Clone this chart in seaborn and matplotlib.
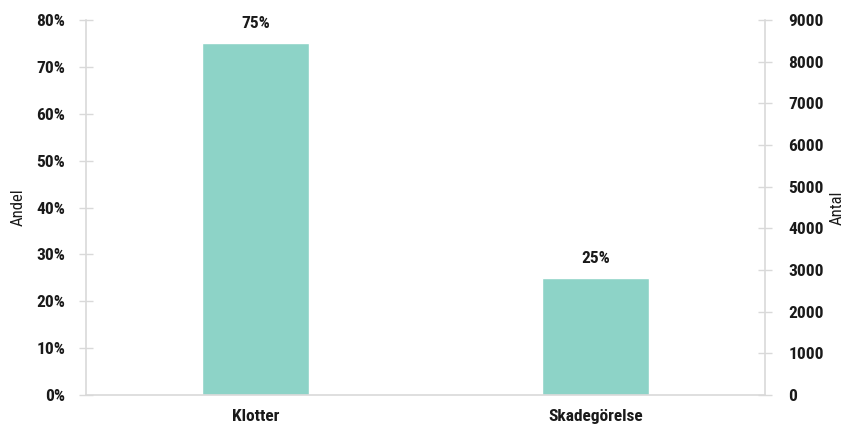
import matplotlib
matplotlib.use("Agg")
import matplotlib.pyplot as plt
from matplotlib import font_manager
import seaborn as sns
import pandas as pd

categories = ["Klotter", "Skadegörelse"]
shares = [75, 25]
left_ticks = [0, 10, 20, 30, 40, 50, 60, 70, 80]
right_ticks = [0, 1000, 2000, 3000, 4000, 5000, 6000, 7000, 8000, 9000]

sns.set_theme(style="white")

# pick a narrow family that actually ships a bold face
bold_families = {f.name for f in font_manager.fontManager.ttflist
                 if isinstance(f.weight, int) and f.weight >= 600
                 or f.weight in ("bold", "semibold", "demibold")}
family = next((f for f in ["Roboto Condensed", "Barlow Semi Condensed", "Archivo Narrow",
                           "Liberation Sans Narrow", "Barlow Condensed"]
               if f in bold_families), "DejaVu Sans")
plt.rcParams["font.family"] = [family, "DejaVu Sans"]

bar_color = "#8DD3C7"
axis_color = "#D9D9D9"
text_color = "#1a1a1a"

df = pd.DataFrame({"kategori": categories, "andel": shares})

fig = plt.figure(figsize=(8.46, 4.24), dpi=100)
ax = fig.add_axes([86 / 846, 1 - 395 / 424, (765 - 86) / 846, (395 - 20) / 424])

sns.barplot(data=df, x="kategori", y="andel", color=bar_color, width=0.315,
            saturation=1, ax=ax)
ax.set_xlim(-0.5, 1.5)
ax.set_ylim(0, 80)
ax.set_yticks(left_ticks)
ax.set_yticklabels([f"{t}%" for t in left_ticks])
ax.set_xlabel("")
ax.set_ylabel("Andel", fontsize=12, color=text_color, labelpad=8)

for i, v in enumerate(shares):
    ax.text(i, v + 2.6, f"{v}%", ha="center", va="bottom", fontsize=12.5,
            fontweight="bold", color=text_color)

ax2 = ax.twinx()
ax2.set_ylim(0, 9000)
ax2.set_yticks(right_ticks)
ax2.set_yticklabels([str(t) for t in right_ticks])
ax2.set_ylabel("Antal", fontsize=12, color=text_color, rotation=90, labelpad=4)

for a in (ax, ax2):
    a.spines["top"].set_visible(False)
    for s in a.spines.values():
        s.set_color(axis_color)
        s.set_linewidth(1.2)
ax.spines["right"].set_visible(False)
ax2.spines["left"].set_visible(False)
ax2.spines["bottom"].set_visible(False)

ax.tick_params(axis="y", direction="inout", length=10, width=1, color=axis_color,
               labelsize=12.5, labelcolor=text_color, pad=10)
ax.tick_params(axis="x", length=0, labelsize=12.5, labelcolor=text_color, pad=10)
ax2.tick_params(axis="y", direction="inout", length=10, width=1, color=axis_color,
                labelsize=12.5, labelcolor=text_color, pad=12)
for lbl in ax.get_yticklabels() + ax.get_xticklabels() + ax2.get_yticklabels():
    lbl.set_fontweight("bold")

fig.savefig("out.png", dpi=100)
